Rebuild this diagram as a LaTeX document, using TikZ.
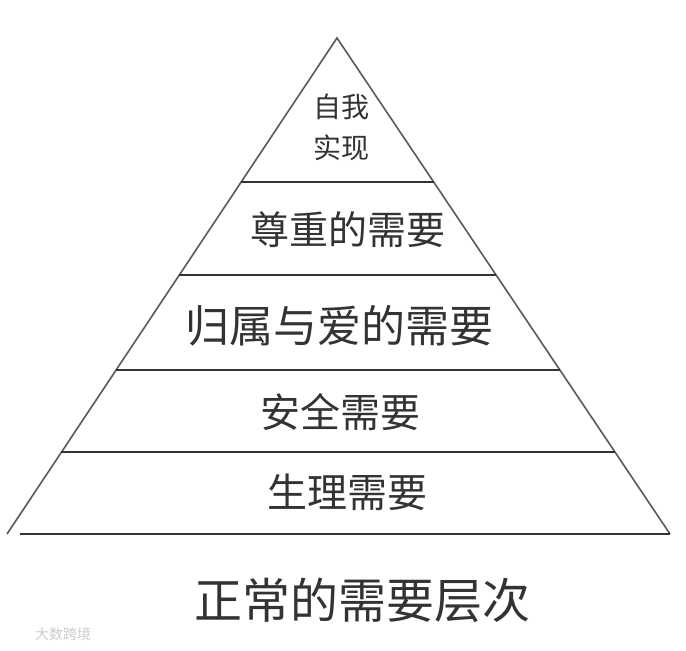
\documentclass[tikz,border=0pt]{standalone}
\usepackage{fontspec}
\setmainfont{Noto Sans CJK SC}
\usetikzlibrary{calc}

\begin{document}
\begin{tikzpicture}[x=1pt,y=-1pt,line width=1.6pt]
\tikzset{level/.style={font=\fontsize{#1}{#1}\selectfont,text=black!80}}
\useasboundingbox (0,0) rectangle (686,651);
\coordinate (apex) at (337,38);
\coordinate (bl) at (7,534);
\coordinate (br) at (670,534);
\draw[black!65] (bl) -- (apex) -- (br);
\draw[black!80] (20,534) -- (br);
\foreach \t in {0.290,0.478,0.669,0.835}
  \draw[black!80] ($(apex)!\t!(bl)$) -- ($(apex)!\t!(br)$);
\node[level=28,align=center,font=\fontsize{28}{41}\selectfont] (self) at (341,127) {自我\\实现};
\node[level=39] (esteem) at (348,230) {尊重的需要};
\node[level=44] (love) at (339,326) {归属与爱的需要};
\node[level=40] (safety) at (340,412) {安全需要};
\node[level=40] (body) at (347,492) {生理需要};
\node[level=48] (title) at (362,600) {正常的需要层次};
\node[font=\fontsize{14}{14}\selectfont,text=black!20] (mark) at (63,634) {大数跨境};
\end{tikzpicture}
\end{document}
